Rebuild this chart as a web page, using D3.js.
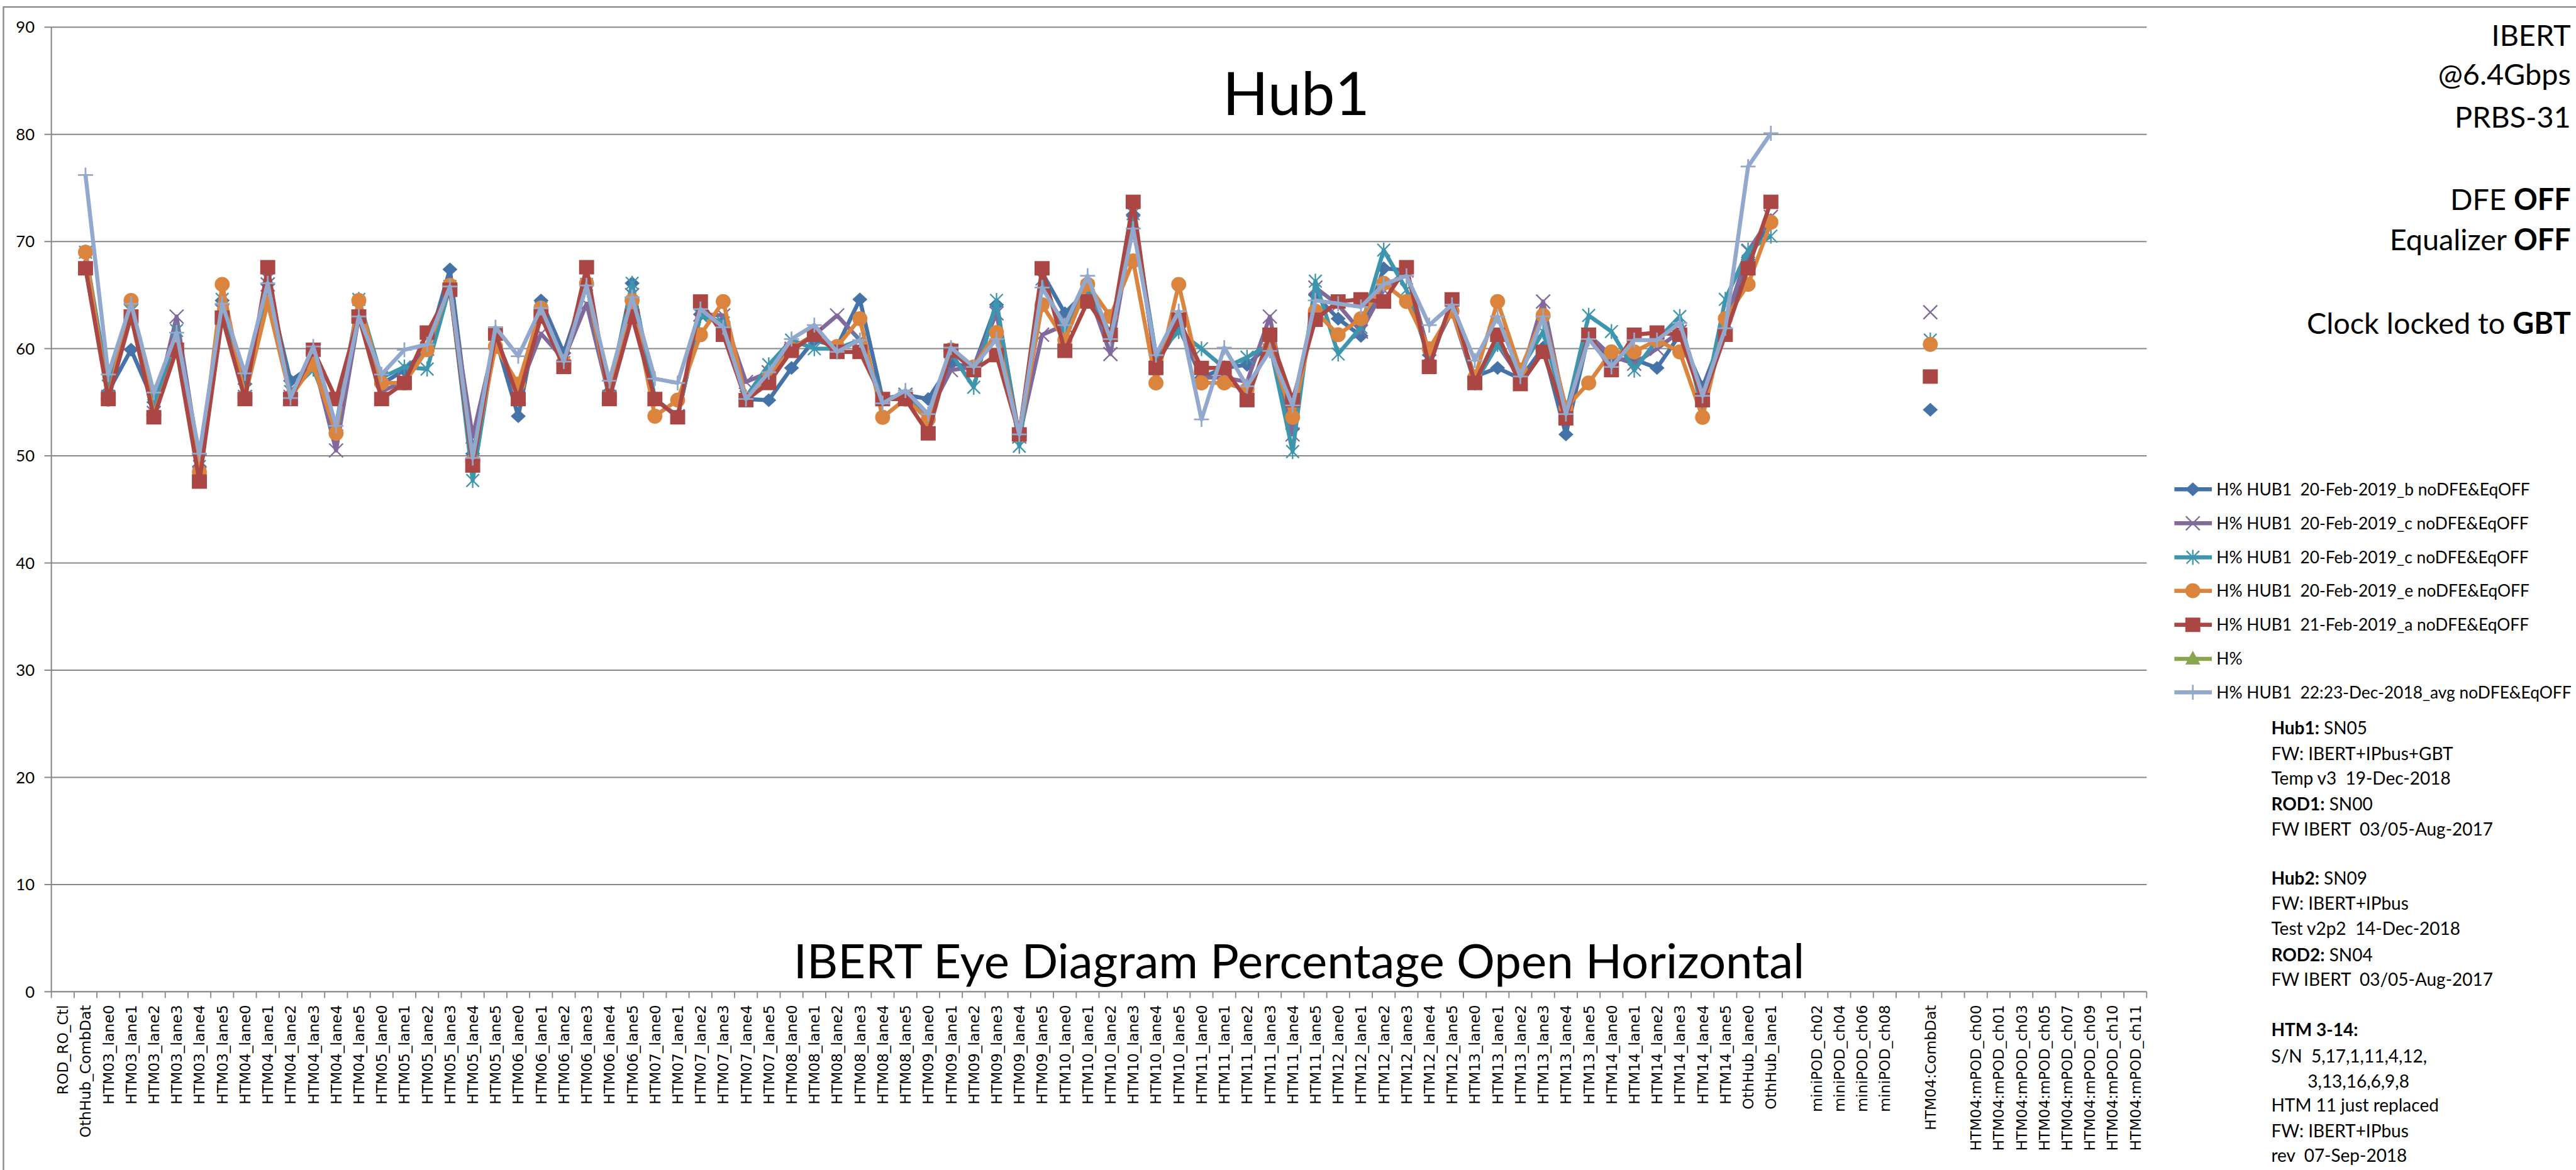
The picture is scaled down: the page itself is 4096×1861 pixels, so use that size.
<!DOCTYPE html>
<meta charset="utf-8">

<style>
  body {
    margin: 0;
    background: #fff;
  }

  text {
    font-family: Lato, "Liberation Sans", sans-serif;
    fill: #000;
    white-space: pre;
  }

  .xlabel {
    font-family: "DejaVu Sans", sans-serif;
    font-size: 25.5px;
  }

  .ylabel {
    font-size: 28px;
  }
</style>

<body>
<svg id="chart" width="4096" height="1861" viewBox="0 0 4464 2028"></svg>

<script src="https://d3js.org/d3.v7.min.js"></script>
<script>

  // category labels along the x axis ('' = empty slot)
  const categories = [
    'ROD_RO_Ctl', 'OthHub_CombDat',
    'HTM03_lane0', 'HTM03_lane1', 'HTM03_lane2', 'HTM03_lane3', 'HTM03_lane4', 'HTM03_lane5',
    'HTM04_lane0', 'HTM04_lane1', 'HTM04_lane2', 'HTM04_lane3', 'HTM04_lane4', 'HTM04_lane5',
    'HTM05_lane0', 'HTM05_lane1', 'HTM05_lane2', 'HTM05_lane3', 'HTM05_lane4', 'HTM05_lane5',
    'HTM06_lane0', 'HTM06_lane1', 'HTM06_lane2', 'HTM06_lane3', 'HTM06_lane4', 'HTM06_lane5',
    'HTM07_lane0', 'HTM07_lane1', 'HTM07_lane2', 'HTM07_lane3', 'HTM07_lane4', 'HTM07_lane5',
    'HTM08_lane0', 'HTM08_lane1', 'HTM08_lane2', 'HTM08_lane3', 'HTM08_lane4', 'HTM08_lane5',
    'HTM09_lane0', 'HTM09_lane1', 'HTM09_lane2', 'HTM09_lane3', 'HTM09_lane4', 'HTM09_lane5',
    'HTM10_lane0', 'HTM10_lane1', 'HTM10_lane2', 'HTM10_lane3', 'HTM10_lane4', 'HTM10_lane5',
    'HTM11_lane0', 'HTM11_lane1', 'HTM11_lane2', 'HTM11_lane3', 'HTM11_lane4', 'HTM11_lane5',
    'HTM12_lane0', 'HTM12_lane1', 'HTM12_lane2', 'HTM12_lane3', 'HTM12_lane4', 'HTM12_lane5',
    'HTM13_lane0', 'HTM13_lane1', 'HTM13_lane2', 'HTM13_lane3', 'HTM13_lane4', 'HTM13_lane5',
    'HTM14_lane0', 'HTM14_lane1', 'HTM14_lane2', 'HTM14_lane3', 'HTM14_lane4', 'HTM14_lane5',
    'OthHub_lane0', 'OthHub_lane1', '',
    'miniPOD_ch02', 'miniPOD_ch04', 'miniPOD_ch06', 'miniPOD_ch08', '',
    'HTM04:CombDat', '',
    'HTM04:mPOD_ch00', 'HTM04:mPOD_ch01', 'HTM04:mPOD_ch03', 'HTM04:mPOD_ch05',
    'HTM04:mPOD_ch07', 'HTM04:mPOD_ch09', 'HTM04:mPOD_ch10', 'HTM04:mPOD_ch11'
  ];

  const yTicks = [0, 10, 20, 30, 40, 50, 60, 70, 80, 90];

  const empty = n => Array(n).fill(null);

  // values for OthHub_CombDat .. OthHub_lane1, then HTM04:CombDat
  const hub1_20feb_b = [null,
    67.5, 56.0, 59.9, 55.0, 60.0, 49.0, 64.5, 56.7, 66.0, 57.0,
    58.5, 52.4, 63.0, 56.7, 58.0, 60.0, 67.4, 50.2, 61.0, 53.7,
    64.5, 59.6, 66.0, 56.0, 66.1, 55.3, 53.7, 63.2, 62.4, 55.3,
    55.2, 58.2, 60.8, 60.2, 64.6, 55.3, 55.7, 55.3, 58.6, 58.3,
    64.1, 51.8, 67.1, 63.3, 65.5, 61.3, 72.5, 58.6, 62.0, 57.3,
    58.2, 58.5, 60.4, 52.5, 65.0, 62.8, 61.2, 67.5, 67.3, 59.4,
    63.5, 57.4, 58.2, 57.2, 60.1, 52.0, 61.3, 59.0, 59.0, 58.2,
    61.3, 56.4, 61.9, 68.3, 72.0,
    ...empty(6), 54.3, ...empty(9)];

  const hub1_20feb_c1 = [null,
    68.3, 55.5, 63.5, 54.0, 63.0, 49.5, 63.5, 55.5, 66.0, 55.5,
    59.0, 50.5, 63.0, 56.0, 57.0, 60.0, 65.5, 51.8, 61.0, 56.0,
    61.4, 59.0, 64.2, 55.5, 65.0, 55.3, 53.7, 63.2, 63.1, 56.9,
    57.8, 60.0, 61.3, 63.1, 60.8, 55.3, 55.7, 53.9, 58.0, 58.3,
    63.3, 51.8, 61.3, 62.2, 65.5, 59.5, 71.8, 59.4, 62.7, 57.3,
    57.3, 56.9, 63.0, 52.0, 65.7, 64.1, 61.6, 65.5, 67.3, 59.4,
    63.5, 56.8, 60.4, 57.2, 64.4, 53.9, 61.3, 59.3, 58.6, 60.0,
    61.6, 55.7, 62.4, 69.1, 72.3,
    ...empty(6), 63.4, ...empty(9)];

  const hub1_20feb_c2 = [null,
    69.0, 56.5, 63.5, 54.7, 61.7, 49.0, 64.6, 55.5, 66.5, 56.0,
    58.1, 52.8, 64.6, 57.3, 58.3, 58.1, 65.8, 47.7, 61.0, 56.0,
    63.8, 58.7, 66.0, 55.5, 66.1, 55.3, 53.7, 63.1, 62.4, 55.5,
    58.5, 60.8, 60.0, 60.0, 60.8, 55.3, 55.7, 53.9, 59.6, 56.4,
    64.5, 50.9, 66.5, 61.3, 65.8, 61.3, 72.6, 59.4, 61.6, 60.0,
    58.2, 59.2, 60.4, 50.4, 66.3, 59.5, 62.0, 69.2, 65.5, 59.1,
    64.1, 56.8, 60.4, 58.0, 61.6, 53.9, 63.1, 61.6, 58.0, 60.8,
    63.0, 54.2, 64.6, 69.2, 70.5,
    ...empty(6), 60.8, ...empty(9)];

  const hub1_20feb_e = [null,
    69.0, 55.3, 64.5, 53.8, 60.0, 48.5, 66.0, 55.5, 64.3, 55.5,
    58.5, 52.1, 64.5, 56.8, 56.8, 59.9, 65.9, 49.5, 60.2, 56.7,
    63.8, 58.7, 66.1, 55.5, 64.5, 53.7, 55.2, 61.3, 64.4, 55.3,
    57.3, 60.0, 61.3, 60.2, 62.8, 53.6, 55.3, 53.4, 59.9, 58.3,
    61.5, 52.0, 64.1, 60.8, 66.0, 63.0, 68.2, 56.8, 66.0, 56.8,
    56.8, 56.2, 60.1, 53.6, 63.5, 61.3, 62.8, 66.1, 64.4, 60.0,
    63.5, 57.3, 64.4, 58.0, 63.1, 54.5, 56.8, 59.7, 59.7, 60.8,
    59.7, 53.6, 62.8, 66.0, 71.8,
    ...empty(6), 60.4, ...empty(9)];

  const hub1_21feb_a = [null,
    67.5, 55.3, 63.0, 53.6, 59.9, 47.6, 62.9, 55.3, 67.6, 55.3,
    59.9, 55.3, 63.0, 55.3, 56.8, 61.5, 65.5, 49.1, 61.4, 55.3,
    63.0, 58.3, 67.6, 55.3, 63.0, 55.3, 53.6, 64.4, 61.3, 55.2,
    56.8, 59.8, 61.3, 59.7, 59.7, 55.3, 55.3, 52.1, 59.8, 58.0,
    59.4, 52.0, 67.5, 59.8, 64.4, 61.3, 73.7, 58.2, 62.7, 58.2,
    58.2, 55.2, 61.3, 55.2, 62.7, 64.4, 64.6, 64.4, 67.6, 58.3,
    64.6, 56.8, 61.3, 56.7, 59.7, 53.5, 61.3, 58.0, 61.3, 61.5,
    61.3, 55.2, 61.3, 67.5, 73.7,
    ...empty(6), 57.4, ...empty(9)];

  const hPercent = empty(92);

  const hub1_dec_avg = [null,
    76.2, 57.6, 64.2, 55.9, 61.5, 50.2, 64.2, 57.7, 66.1, 55.4,
    60.2, 52.8, 63.0, 57.6, 59.9, 60.4, 65.8, 49.8, 62.0, 59.3,
    63.8, 58.8, 65.9, 57.0, 64.8, 57.2, 56.8, 63.7, 62.0, 55.3,
    57.8, 60.9, 62.2, 59.7, 60.8, 54.9, 56.1, 53.9, 60.1, 58.3,
    60.9, 52.0, 65.7, 62.2, 66.8, 60.9, 71.2, 59.4, 63.5, 53.4,
    60.1, 56.5, 59.8, 54.7, 64.5, 64.2, 63.9, 66.0, 66.8, 62.2,
    64.1, 58.9, 63.0, 57.4, 63.0, 53.9, 60.9, 58.3, 60.8, 60.8,
    62.4, 55.6, 61.9, 77.0, 80.1,
    ...empty(16)];

  const series = [
    { name: 'H% HUB1  20-Feb-2019_b noDFE&EqOFF', values: hub1_20feb_b, color: '#4572A7', marker: 'diamond' },
    { name: 'H% HUB1  20-Feb-2019_c noDFE&EqOFF', values: hub1_20feb_c1, color: '#80699B', marker: 'x' },
    { name: 'H% HUB1  20-Feb-2019_c noDFE&EqOFF', values: hub1_20feb_c2, color: '#3D96AE', marker: 'star' },
    { name: 'H% HUB1  20-Feb-2019_e noDFE&EqOFF', values: hub1_20feb_e, color: '#DB843D', marker: 'circle' },
    { name: 'H% HUB1  21-Feb-2019_a noDFE&EqOFF', values: hub1_21feb_a, color: '#AA4643', marker: 'square' },
    { name: 'H%', values: hPercent, color: '#89A54E', marker: 'triangle' },
    { name: 'H% HUB1  22:23-Dec-2018_avg noDFE&EqOFF', values: hub1_dec_avg, color: '#92A8CD', marker: 'plus' }
  ];

  const gridColor = '#878787';

  const svg = d3.select('#chart');

  // outer chart frame (only top/left edges fall inside the picture)
  svg.append('rect')
    .attr('x', 6).attr('y', 12)
    .attr('width', 4500).attr('height', 2100)
    .attr('fill', 'none')
    .attr('stroke', gridColor)
    .attr('stroke-width', 2.5);

  const plotLeft = 89, plotRight = 3720, plotTop = 47, plotBottom = 1719;

  const x = d3.scaleBand()
    .domain(d3.range(categories.length))
    .range([plotLeft, plotRight]);

  const y = d3.scaleLinear()
    .domain([0, 90])
    .range([plotBottom, plotTop]);

  const bw = x.bandwidth();
  const cx = i => x(i) + bw / 2;

  // gridlines + y ticks
  svg.append('g').selectAll('line')
    .data(yTicks)
    .enter().append('line')
    .attr('x1', plotLeft - 12)
    .attr('x2', d => d === 0 ? plotLeft : plotRight)
    .attr('y1', d => y(d))
    .attr('y2', d => y(d))
    .attr('stroke', gridColor)
    .attr('stroke-width', 2.2);

  svg.append('g').selectAll('text')
    .data(yTicks)
    .enter().append('text')
    .attr('class', 'ylabel')
    .attr('x', 60)
    .attr('y', d => y(d))
    .attr('dy', '0.36em')
    .attr('text-anchor', 'end')
    .text(d => d);

  // axes
  svg.append('line')
    .attr('x1', plotLeft).attr('x2', plotLeft)
    .attr('y1', plotTop).attr('y2', plotBottom)
    .attr('stroke', gridColor).attr('stroke-width', 2.2);

  svg.append('line')
    .attr('x1', plotLeft).attr('x2', plotRight)
    .attr('y1', plotBottom).attr('y2', plotBottom)
    .attr('stroke', gridColor).attr('stroke-width', 2.5);

  // x ticks sit on category boundaries
  svg.append('g').selectAll('line')
    .data(d3.range(categories.length + 1))
    .enter().append('line')
    .attr('x1', i => plotLeft + i * bw)
    .attr('x2', i => plotLeft + i * bw)
    .attr('y1', plotBottom)
    .attr('y2', plotBottom + 11)
    .attr('stroke', gridColor)
    .attr('stroke-width', 2);

  svg.append('g').selectAll('text')
    .data(categories)
    .enter().append('text')
    .attr('class', 'xlabel')
    .attr('transform', (d, i) => `translate(${cx(i)},1742) rotate(-90)`)
    .attr('dy', '0.36em')
    .attr('text-anchor', 'end')
    .text(d => d);

  // marker shapes, size ~26 in reference pixels
  function drawMarker(g, type, color) {
    if (type === 'diamond') {
      g.append('path').attr('d', 'M0,-12L13,0L0,12L-13,0Z').attr('fill', color);
    } else if (type === 'square') {
      g.append('rect').attr('x', -13).attr('y', -12.5).attr('width', 26).attr('height', 25).attr('fill', color);
    } else if (type === 'circle') {
      g.append('circle').attr('r', 13).attr('fill', color);
    } else if (type === 'triangle') {
      g.append('path').attr('d', 'M0,-14L13,10L-13,10Z').attr('fill', color);
    } else if (type === 'x') {
      g.append('path').attr('d', 'M-12,-12L12,12M-12,12L12,-12')
        .attr('stroke', color).attr('stroke-width', 2.5).attr('fill', 'none');
    } else if (type === 'star') {
      g.append('path').attr('d', 'M-11,-11L11,11M-11,11L11,-11M0,-13L0,13')
        .attr('stroke', color).attr('stroke-width', 2.5).attr('fill', 'none');
    } else if (type === 'plus') {
      g.append('path').attr('d', 'M-13,0L13,0M0,-13L0,13')
        .attr('stroke', color).attr('stroke-width', 3).attr('fill', 'none');
    }
  }

  const line = d3.line()
    .defined(v => v !== null)
    .x((v, i) => cx(i))
    .y(v => y(v));

  series.forEach(s => {
    const g = svg.append('g');
    g.append('path')
      .attr('d', line(s.values))
      .attr('fill', 'none')
      .attr('stroke', s.color)
      .attr('stroke-width', 7)
      .attr('stroke-linejoin', 'round');

    s.values.forEach((v, i) => {
      if (v === null) return;
      const m = g.append('g').attr('transform', `translate(${cx(i)},${y(v)})`);
      drawMarker(m, s.marker, s.color);
    });
  });

  // titles
  svg.append('text')
    .attr('x', 2246).attr('y', 199)
    .attr('text-anchor', 'middle')
    .style('font-size', '104px')
    .text('Hub1');

  svg.append('text')
    .attr('x', 2251).attr('y', 1696)
    .attr('text-anchor', 'middle')
    .style('font-size', '83px')
    .text('IBERT Eye Diagram Percentage Open Horizontal');

  // legend
  const legendY = [848, 907, 966, 1024, 1083, 1142, 1200];
  const legend = svg.append('g').selectAll('g')
    .data(series)
    .enter().append('g')
    .attr('transform', (d, i) => `translate(0,${legendY[i]})`);

  legend.append('line')
    .attr('x1', 3768).attr('x2', 3833)
    .attr('stroke', d => d.color)
    .attr('stroke-width', 7);

  legend.each(function (d) {
    drawMarker(d3.select(this).append('g').attr('transform', 'translate(3800,0)'), d.marker, d.color);
  });

  legend.append('text')
    .attr('x', 3841)
    .attr('dy', '0.36em')
    .style('font-size', '28.7px')
    .text(d => d.name);

  // test conditions, top right
  const conditions = [
    { y: 80, parts: [['IBERT', false]] },
    { y: 147, parts: [['@6.4Gbps', false]] },
    { y: 221, parts: [['PRBS-31', false]] },
    { y: 364, parts: [['DFE ', false], ['OFF', true]] },
    { y: 434, parts: [['Equalizer ', false], ['OFF', true]] },
    { y: 579, parts: [['Clock locked to ', false], ['GBT', true]] }
  ];

  conditions.forEach(c => {
    const t = svg.append('text')
      .attr('x', 4455).attr('y', c.y)
      .attr('text-anchor', 'end')
      .style('font-size', '51px');
    c.parts.forEach(p => {
      t.append('tspan').style('font-weight', p[1] ? 'bold' : 'normal').text(p[0]);
    });
  });

  // hardware notes, bottom right
  const notes = [
    { y: 1273, parts: [['Hub1:', true], [' SN05', false]] },
    { y: 1317, parts: [['FW: IBERT+IPbus+GBT', false]] },
    { y: 1360, parts: [['Temp v3  19-Dec-2018', false]] },
    { y: 1405, parts: [['ROD1:', true], [' SN00', false]] },
    { y: 1448, parts: [['FW IBERT  03/05-Aug-2017', false]] },
    { y: 1533, parts: [['Hub2:', true], [' SN09', false]] },
    { y: 1577, parts: [['FW: IBERT+IPbus', false]] },
    { y: 1621, parts: [['Test v2p2  14-Dec-2018', false]] },
    { y: 1666, parts: [['ROD2:', true], [' SN04', false]] },
    { y: 1709, parts: [['FW IBERT  03/05-Aug-2017', false]] },
    { y: 1796, parts: [['HTM 3-14:', true]] },
    { y: 1842, parts: [['S/N  5,17,1,11,4,12,', false]] },
    { y: 1885, parts: [['3,13,16,6,9,8', false]], indent: 63 },
    { y: 1927, parts: [['HTM 11 just replaced', false]] },
    { y: 1971, parts: [['FW: IBERT+IPbus', false]] },
    { y: 2014, parts: [['rev  07-Sep-2018', false]] }
  ];

  notes.forEach(n => {
    const t = svg.append('text')
      .attr('x', 3936 + (n.indent || 0)).attr('y', n.y)
      .style('font-size', '30.5px');
    n.parts.forEach(p => {
      t.append('tspan').style('font-weight', p[1] ? 'bold' : 'normal').text(p[0]);
    });
  });

</script>
</body>
